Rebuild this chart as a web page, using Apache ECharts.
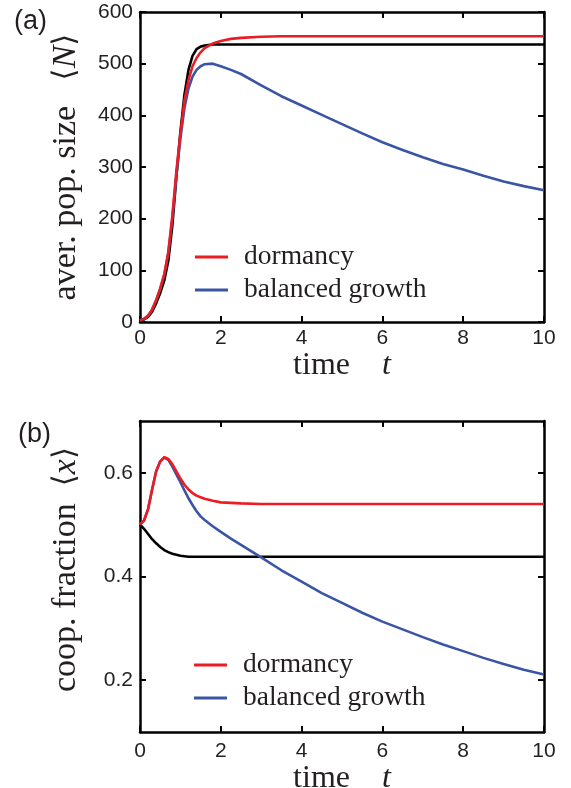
<!DOCTYPE html>
<html>
<head>
<meta charset="utf-8">
<script src="https://cdn.jsdelivr.net/npm/echarts@6/dist/echarts.min.js"></script>
<style>
  html, body { margin: 0; padding: 0; background: #fff; }
  #chart { width: 571px; height: 788px; }
</style>
</head>
<body>
<div id="chart"></div>
<script>
// sample times shared by both panels
const time = [0, 0.1, 0.2, 0.3, 0.4, 0.5, 0.6, 0.7, 0.8, 0.9, 1.0, 1.1, 1.2, 1.3, 1.4, 1.5, 1.6,
  1.8, 2.0, 2.25, 2.5, 3.0, 3.5, 4.0, 4.5, 5.0, 5.5, 6.0, 6.5, 7.0, 7.5, 8.0, 8.5, 9.0, 9.5, 10];

// (a) average population size <N>
const popBase = [3, 5, 10, 20, 36, 56, 80, 118, 186, 280, 368, 440, 488, 515, 528, 533, 535,
  537, 537, 537, 537, 537, 537, 537, 537, 537, 537, 537, 537, 537, 537, 537, 537, 537, 537, 537];
const popDormancy = [3, 6, 12, 24, 42, 65, 92, 135, 205, 292, 365, 428, 468, 495, 511, 522, 530,
  539, 544, 548, 550, 552, 553, 553, 553, 553, 553, 553, 553, 553, 553, 553, 553, 553, 553, 553];
const popBalanced = [3, 6, 12, 24, 42, 64, 91, 133, 200, 283, 355, 414, 452, 475, 488, 495, 499,
  500, 495, 488, 480, 458, 437, 419, 401, 383, 365, 348, 333, 319, 306, 295, 283, 272, 263, 255];

// (b) cooperator fraction <x>
const fracBase = [0.500, 0.492, 0.482, 0.472, 0.464, 0.457, 0.451, 0.447, 0.444, 0.442, 0.440, 0.439, 0.438,
  0.438, 0.438, 0.438, 0.438, 0.438, 0.438, 0.438, 0.438, 0.438, 0.438, 0.438, 0.438, 0.438, 0.438,
  0.438, 0.438, 0.438, 0.438, 0.438, 0.438, 0.438, 0.438, 0.438];
const fracDormancy = [0.500, 0.508, 0.530, 0.568, 0.603, 0.622, 0.630, 0.627, 0.617, 0.603, 0.589, 0.577,
  0.568, 0.561, 0.556, 0.553, 0.550, 0.546, 0.543, 0.542, 0.541, 0.540, 0.540, 0.540, 0.540, 0.540,
  0.540, 0.540, 0.540, 0.540, 0.540, 0.540, 0.540, 0.540, 0.540, 0.540];
const fracBalanced = [0.500, 0.508, 0.530, 0.568, 0.603, 0.622, 0.630, 0.625, 0.612, 0.597, 0.582, 0.566,
  0.551, 0.538, 0.526, 0.516, 0.509, 0.497, 0.486, 0.473, 0.461, 0.437, 0.412, 0.390, 0.368, 0.349,
  0.330, 0.313, 0.298, 0.283, 0.269, 0.256, 0.243, 0.231, 0.220, 0.211];

const fracTicks = [0.2, 0.4, 0.6];
const legendNames = ['dormancy', 'balanced growth'];

const RED = '#ec1c24';
const BLUE = '#3a55a4';
const INK = '#231f20';
const SERIF = '"Liberation Serif", "Times New Roman", serif';
const SANS = '"Liberation Sans", Arial, sans-serif';

const pairs = (ys) => time.map((t, i) => [t, ys[i]]);

const chart = echarts.init(document.getElementById('chart'));

const boxLine = { show: true, onZero: false, lineStyle: { color: '#000', width: 2.5 } };
const inTick = { show: true, inside: true, length: 6, lineStyle: { color: '#000', width: 2 } };

const nameRich = {
  r: { fontFamily: SERIF, fontSize: 32, color: INK },
  i: { fontFamily: SERIF, fontSize: 32, fontStyle: 'italic', color: INK },
  yr: { fontFamily: SERIF, fontSize: 34, color: INK },
  yi: { fontFamily: SERIF, fontSize: 34, fontStyle: 'italic', color: INK },
  b: { fontFamily: '"DejaVu Serif", serif', fontSize: 31, color: INK }
};

function xAxes(gridIndex, labelMargin, nameGap) {
  return [
    {
      gridIndex, type: 'value', min: 0, max: 10, interval: 2, position: 'bottom',
      axisLine: boxLine, axisTick: inTick, splitLine: { show: false },
      axisLabel: { margin: labelMargin, fontFamily: SANS, fontSize: 21, color: INK },
      name: '{r|time}{r|    }{i|t}', nameLocation: 'middle', nameGap,
      nameTextStyle: { rich: nameRich }
    },
    {
      gridIndex, type: 'value', min: 0, max: 10, interval: 2, position: 'top',
      axisLine: boxLine, axisTick: inTick, splitLine: { show: false },
      axisLabel: { show: false }
    }
  ];
}

const series = (name, data, color, x, y) => ({
  name, type: 'line', data, xAxisIndex: x, yAxisIndex: y,
  showSymbol: false, symbol: 'none',
  lineStyle: { color, width: 2.6, join: 'round' }, itemStyle: { color },
  silent: true, animation: false
});

const legendBase = {
  orient: 'vertical', icon: 'rect', itemWidth: 33, itemHeight: 3, itemGap: 5,
  padding: 0, data: legendNames, selectedMode: false,
  textStyle: { fontFamily: SERIF, fontSize: 27.5, color: INK, padding: [0, 0, 0, 11] }
};

const option = {
  backgroundColor: '#fff',
  animation: false,
  grid: [
    { left: 140, right: 27, top: 12, height: 310, outerBoundsMode: 'none' },
    { left: 140, right: 27, top: 421, height: 311, outerBoundsMode: 'none' }
  ],
  xAxis: [...xAxes(0, 6, 23), ...xAxes(1, 9, 18)],
  yAxis: [
    {
      gridIndex: 0, type: 'value', min: 0, max: 600, interval: 100,
      axisLine: boxLine, axisTick: inTick, splitLine: { show: false },
      axisLabel: { margin: 7, fontFamily: SANS, fontSize: 21, color: INK },
      name: '{yr|aver. pop. size}{yr|   }{b|⟨}{yi|N}{b|⟩}', nameLocation: 'middle', nameRotate: 90, nameGap: 57,
      nameTextStyle: { rich: nameRich }
    },
    {
      gridIndex: 0, type: 'value', min: 0, max: 600, interval: 100, position: 'right',
      axisLine: boxLine, axisTick: inTick, splitLine: { show: false }, axisLabel: { show: false }
    },
    {
      gridIndex: 1, type: 'value', min: 0.1, max: 0.7,
      axisLine: boxLine, axisTick: Object.assign({ customValues: fracTicks }, inTick), splitLine: { show: false },
      axisLabel: { customValues: fracTicks, margin: 7, fontFamily: SANS, fontSize: 21, color: INK,
        formatter: (v) => v.toFixed(1) },
      name: '{yr|coop. fraction}{yr|  }{b|⟨}{yi|x}{b|⟩}', nameLocation: 'middle', nameRotate: 90, nameGap: 57,
      nameTextStyle: { rich: nameRich, padding: [0, 0, 0, 14] }
    },
    {
      gridIndex: 1, type: 'value', min: 0.1, max: 0.7, position: 'right',
      axisLine: boxLine, axisTick: Object.assign({ customValues: fracTicks }, inTick),
      splitLine: { show: false }, axisLabel: { show: false }
    }
  ],
  legend: [
    Object.assign({ left: 195, top: 243 }, legendBase),
    Object.assign({ left: 194, top: 651 }, legendBase)
  ],
  graphic: [
    { type: 'text', left: 14, top: 8, style: { text: '(a)', fontFamily: SANS, fontSize: 27, fill: INK } },
    { type: 'text', left: 18, top: 421, style: { text: '(b)', fontFamily: SANS, fontSize: 27, fill: INK } }
  ],
  series: [
    series('no dormancy', pairs(popBase), '#000', 0, 0),
    series('balanced growth', pairs(popBalanced), BLUE, 0, 0),
    series('dormancy', pairs(popDormancy), RED, 0, 0),
    series('no dormancy', pairs(fracBase), '#000', 2, 2),
    series('balanced growth', pairs(fracBalanced), BLUE, 2, 2),
    series('dormancy', pairs(fracDormancy), RED, 2, 2)
  ]
};

chart.setOption(option);
</script>
</body>
</html>
